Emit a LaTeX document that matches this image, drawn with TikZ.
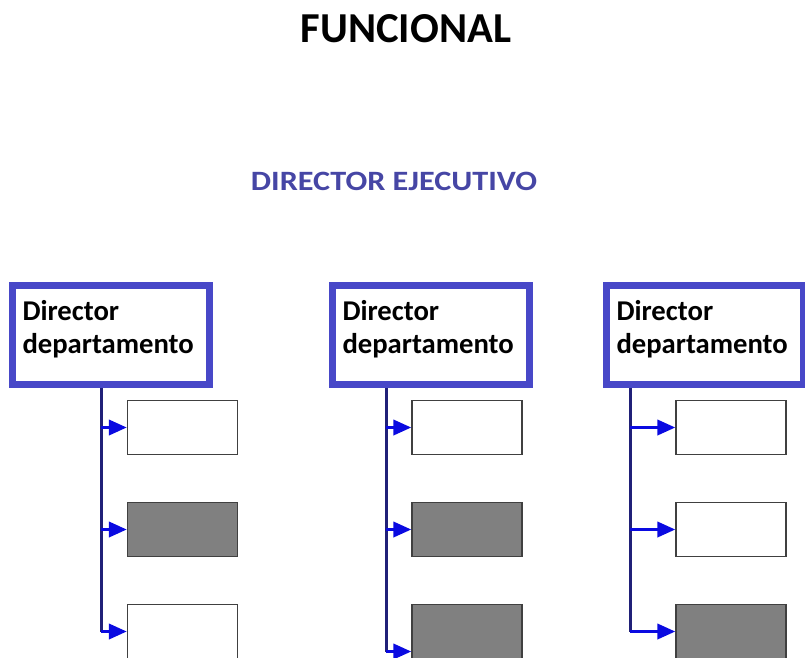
\documentclass[tikz,border=0pt]{standalone}
\usepackage{fontspec}
\setmainfont{Carlito}
\usetikzlibrary{arrows.meta}

\definecolor{boxblue}{RGB}{72,72,200}
\definecolor{headblue}{RGB}{70,70,165}
\definecolor{trunknavy}{RGB}{32,32,120}
\definecolor{arrowblue}{RGB}{10,10,225}
\definecolor{unitgray}{RGB}{128,128,128}

\tikzset{
    director/.style={draw=boxblue, line width=5.25pt, fill=white, minimum width=147.75pt,
        inner xsep=7.5pt, inner ysep=0pt, text width=132.75pt, align=left,
        text height=25.9pt, text depth=48.35pt,
        font=\bfseries\fontsize{21.5}{25}\selectfont},
    unit/.style={draw=black!75, line width=1.1pt, fill=white, minimum width=82.5pt, minimum height=40.5pt},
    unitdark/.style={unit, fill=unitgray},
    trunk/.style={draw=trunknavy, line width=2.25pt},
    branch/.style={draw=arrowblue, line width=2.25pt, -{Triangle[length=13.5pt,width=11.5pt]}}
}

\begin{document}
\begin{tikzpicture}[x=0.75pt, y=-0.75pt]
    % Page frame
    \clip (0,0) rectangle (805,657);
    \useasboundingbox (0,0) rectangle (805,657);

    % Titles
    \node (title) at (406,29) {\bfseries\fontsize{32}{36}\selectfont FUNCIONAL};
    \node[text=headblue] (ceo) at (394,181) {\bfseries\fontsize{21}{24}\selectfont\scalebox{1.15}[1]{DIRECTOR EJECUTIVO}};

    % Department directors
    \node[director] (dirA) at (111,335) {Director\\departamento};
    \node[director] (dirB) at (431,335) {Director\\departamento};
    \node[director] (dirC) at (705,335) {Director\\departamento};

    % Trunk starts below each director
    \coordinate (trunkA) at (101,388);
    \coordinate (trunkB) at (386,388);
    \coordinate (trunkC) at (630,388);

    % Units of the first department
    \node[unit] (a1) at (182.5,427.5) {};
    \node[unitdark] (a2) at (182.5,529.5) {};
    \node[unit] (a3) at (182.5,631.5) {};

    % Units of the second department
    \node[unit] (b1) at (467,427.5) {};
    \node[unitdark] (b2) at (467,529.5) {};
    \node[unitdark] (b3) at (467,631.5) {};

    % Units of the third department
    \node[unit] (c1) at (731,427.5) {};
    \node[unit] (c2) at (731,529.5) {};
    \node[unitdark] (c3) at (731,631.5) {};

    % Vertical lines
    \draw[trunk] (trunkA) -- (trunkA |- a3.west);
    \draw[trunk] ([yshift=-15pt]trunkB |- b3.west) -- (trunkB);
    \draw[trunk] (trunkC) -- (trunkC |- c3.west);

    % Arrows to the units
    \draw[branch] (trunkA |- a1.west) -- (a1.west);
    \draw[branch] (trunkA |- a2.west) -- (a2.west);
    \draw[branch] (trunkA |- a3.west) -- (a3.west);
    \draw[branch] (trunkB |- b1.west) -- (b1.west);
    \draw[branch] (trunkB |- b2.west) -- (b2.west);
    \draw[branch] ([yshift=-15pt]trunkB |- b3.west) -- ([yshift=-15pt]b3.west);
    \draw[branch] (trunkC |- c1.west) -- (c1.west);
    \draw[branch] (trunkC |- c2.west) -- (c2.west);
    \draw[branch] (trunkC |- c3.west) -- (c3.west);

\end{tikzpicture}
\end{document}
